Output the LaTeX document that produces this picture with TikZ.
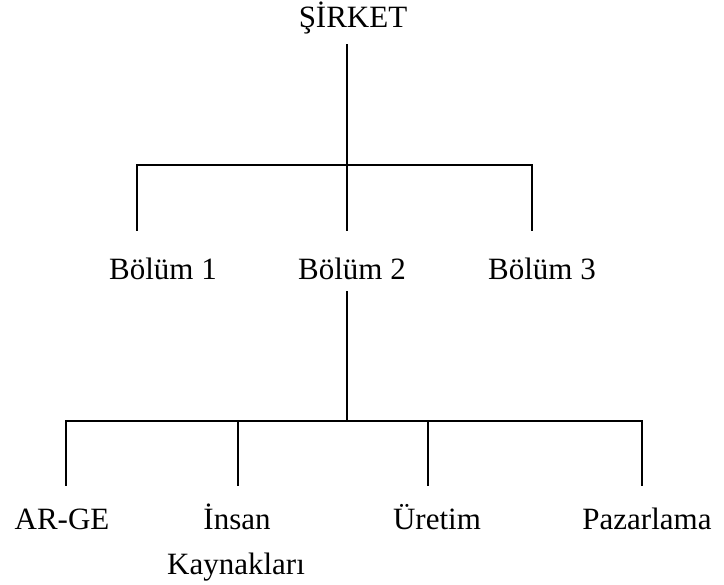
\documentclass[tikz,border=0pt]{standalone}
\usepackage{fontspec}
\setmainfont{Liberation Serif}
\begin{document}
\begin{tikzpicture}[x=1pt,y=-1pt,
  label/.style={anchor=base,inner sep=0pt,font=\fontsize{31}{37}\selectfont},
  link/.style={line width=1.8pt,line cap=rect}]
\useasboundingbox (0,0) rectangle (724,585);

% labels
\node[label] (sirket) at (353,28) {ŞİRKET};
\node[label] (b1) at (163,280) {Bölüm 1};
\node[label] (b2) at (352,280) {Bölüm 2};
\node[label] (b3) at (542,280) {Bölüm 3};
\node[label] (arge) at (62,530) {AR-GE};
\node[label] (hr) at (237,530) {İnsan};
\node[label] (hr2) at (236,575) {Kaynakları};
\node[label] (ur) at (437,530) {Üretim};
\node[label] (paz) at (647,530) {Pazarlama};

% junction points of the tree
\coordinate (topStem) at (347,45);
\coordinate (busA) at (347,165);
\coordinate (busA1) at (137,165);
\coordinate (busA3) at (532,165);
\coordinate (endB1) at (137,230);
\coordinate (endB2) at (347,230);
\coordinate (endB3) at (532,230);
\coordinate (midStem) at (347,292);
\coordinate (busB) at (347,421);
\coordinate (busB1) at (66,421);
\coordinate (busB2) at (238,421);
\coordinate (busB3) at (428,421);
\coordinate (busB4) at (642,421);
\coordinate (endC1) at (66,485);
\coordinate (endC2) at (238,485);
\coordinate (endC3) at (428,485);
\coordinate (endC4) at (642,485);

% upper level
\draw[link] (topStem) -- (busA);
\draw[link] (busA1) -- (busA3);
\draw[link] (busA1) -- (endB1);
\draw[link] (busA) -- (endB2);
\draw[link] (busA3) -- (endB3);

% lower level
\draw[link] (midStem) -- (busB);
\draw[link] (busB1) -- (busB4);
\draw[link] (busB1) -- (endC1);
\draw[link] (busB2) -- (endC2);
\draw[link] (busB3) -- (endC3);
\draw[link] (busB4) -- (endC4);
\end{tikzpicture}
\end{document}
